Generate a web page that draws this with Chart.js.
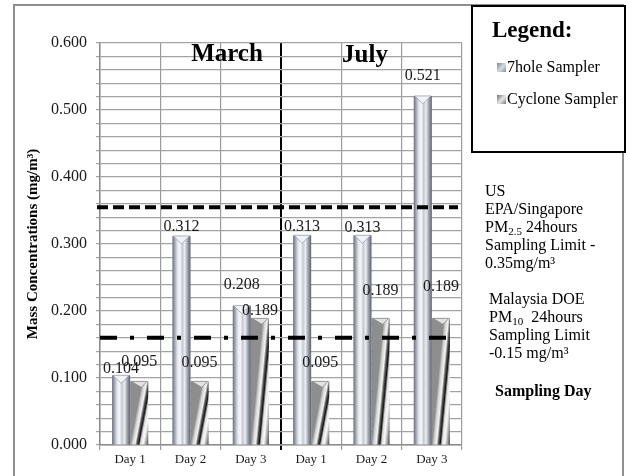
<!DOCTYPE html>
<html>
<head>
<meta charset="utf-8">
<script src="https://cdn.jsdelivr.net/npm/chart.js@4.4.0/dist/chart.umd.min.js"></script>
<style>
  html, body { margin: 0; padding: 0; background: #fff; }
  canvas { display: block; }
</style>
</head>
<body>
<canvas id="massChart" width="626" height="476"></canvas>
<script>
// sampling days for the two campaigns (March, then July)
var days = ['Day 1', 'Day 2', 'Day 3', 'Day 1', 'Day 2', 'Day 3'];
var sevenHole = [0.104, 0.312, 0.208, 0.313, 0.313, 0.521];
var cyclone = [0.095, 0.095, 0.189, 0.095, 0.189, 0.189];
var yMajorTicks = [0, 0.1, 0.2, 0.3, 0.4, 0.5, 0.6];
var pm25Limit = 0.355;
var pm10Limit = 0.16;

// distance (px) between the top of each bar and its value label
var liftSevenHole = [7, 9, 21, 8, 7, 20];
var liftCyclone = [20, 19, 8, 19, 28, 32];

var SERIF = "'Liberation Serif', 'Times New Roman', serif";
var CAT_PCT = 0.6;

var chromeStops = [
  [0, '#6c707c'], [0.12, '#9ca1ad'], [0.28, '#e4e7ee'], [0.42, '#f6f7fa'],
  [0.55, '#c4c8d1'], [0.68, '#eceef3'], [0.82, '#a4a9b4'], [1, '#5d616b']
];
var twistStops = [
  [0, '#8e8e8e'], [0.12, '#d4d4d4'], [0.26, '#f3f3f3'], [0.36, '#5a5a5a'],
  [0.46, '#151515'], [0.56, '#dcdcdc'], [0.7, '#fbfbfb'], [0.85, '#a5a5a5'], [1, '#3e3e3e']
];

// geometry of one bar computed from the scales
function barBox(chart, ds, i) {
  var xs = chart.scales.x, ys = chart.scales.y;
  var cw = xs.width / days.length;
  var w = cw * CAT_PCT / 2;
  var left = xs.getPixelForValue(i) - cw * CAT_PCT / 2 + ds * w;
  var val = chart.data.datasets[ds].data[i];
  var top = ys.getPixelForValue(val), bottom = ys.getPixelForValue(0);
  return { left: left, w: w, top: top, h: Math.max(bottom - top, 1) };
}

// horizontal gradient whose bands lean right by `skew` px over the bar height
function leanGradient(ctx, b, skew, stops) {
  var n = Math.sqrt(b.h * b.h + skew * skew);
  var dx = b.h / n, dy = skew / n;
  var span = b.h * (b.w + skew) / n;
  var g = ctx.createLinearGradient(b.left, b.top, b.left + span * dx, b.top + span * dy);
  var t0 = skew / (b.w + skew);
  stops.forEach(function (s) { g.addColorStop(t0 + s[0] * (1 - t0), s[1]); });
  return g;
}

function barFill(skew, stops, plain) {
  return function (c) {
    var chart = c.chart;
    if (!chart.chartArea || c.dataIndex === undefined) return plain;
    return leanGradient(chart.ctx, barBox(chart, c.datasetIndex, c.dataIndex), skew, stops);
  };
}

var decorations = {
  id: 'decorations',
  beforeDraw: function (chart) {
    var ctx = chart.ctx;
    ctx.save();
    ctx.fillStyle = '#fff';
    ctx.fillRect(0, 0, chart.width, chart.height);
    ctx.strokeStyle = '#8f8f8f';
    ctx.lineWidth = 2;
    ctx.strokeRect(14, 5, 609, 480);
    ctx.restore();
  },
  afterDatasetsDraw: function (chart) {
    var ctx = chart.ctx, ys = chart.scales.y, area = chart.chartArea;
    ctx.save();

    // conical caps on top of the bars
    [0, 1].forEach(function (ds) {
      chart.getDatasetMeta(ds).data.forEach(function (bar) {
        var l = bar.x - bar.width / 2, r = bar.x + bar.width / 2;
        ctx.beginPath();
        ctx.moveTo(l + 1, bar.y);
        ctx.lineTo(r - 1, bar.y);
        ctx.lineTo(bar.x + (ds ? 2 : 0), bar.y + (ds ? 6 : 8));
        ctx.closePath();
        ctx.fillStyle = ds ? '#e2e2e2' : '#f1f3f8';
        ctx.fill();
        ctx.strokeStyle = ds ? '#8a8a8a' : '#9aa0ad';
        ctx.lineWidth = 0.8;
        ctx.stroke();
      });
    });

    // sampling limits
    ctx.strokeStyle = '#000';
    ctx.lineWidth = 4;
    var y1 = ys.getPixelForValue(pm25Limit);
    ctx.setLineDash([11, 5]);
    ctx.beginPath();
    ctx.moveTo(area.left - 3, y1);
    ctx.lineTo(area.right - 4, y1);
    ctx.stroke();
    var y2 = ys.getPixelForValue(pm10Limit);
    ctx.setLineDash([17, 13, 4, 13]);
    ctx.beginPath();
    ctx.moveTo(area.left, y2);
    ctx.lineTo(area.right - 8, y2);
    ctx.stroke();
    ctx.setLineDash([]);

    // value labels
    ctx.font = '16px ' + SERIF;
    ctx.fillStyle = '#1a1a1a';
    ctx.textAlign = 'center';
    ctx.textBaseline = 'middle';
    [[0, liftSevenHole], [1, liftCyclone]].forEach(function (p) {
      var ds = chart.data.datasets[p[0]];
      chart.getDatasetMeta(p[0]).data.forEach(function (bar, i) {
        ctx.fillText(ds.data[i].toFixed(3), bar.x, bar.y - p[1][i]);
      });
    });

    // campaign headings
    ctx.font = 'bold 25px ' + SERIF;
    ctx.fillStyle = '#000';
    ctx.textBaseline = 'alphabetic';
    ctx.fillText('March', 227, 61);
    ctx.fillText('July', 365, 62);
    ctx.restore();
  },
  afterDraw: function (chart) {
    var ctx = chart.ctx;
    ctx.save();
    ctx.fillStyle = '#000';

    // y axis title
    ctx.translate(33, 244);
    ctx.rotate(-Math.PI / 2);
    ctx.font = 'bold 15px ' + SERIF;
    ctx.textAlign = 'center';
    ctx.textBaseline = 'middle';
    ctx.fillText('Mass Concentrations (mg/m\u00b3)', 0, 0);
    ctx.setTransform(1, 0, 0, 1, 0, 0);

    // legend box
    ctx.fillStyle = '#fff';
    ctx.fillRect(472, 6, 153, 146);
    ctx.strokeStyle = '#000';
    ctx.lineWidth = 2;
    ctx.strokeRect(472, 6, 153, 146);
    ctx.fillStyle = '#000';
    ctx.textAlign = 'left';
    ctx.font = 'bold 23px ' + SERIF;
    ctx.fillText('Legend:', 492, 31);
    ctx.font = '16px ' + SERIF;
    [['7hole Sampler', 68, '#d9dce3', '#7d818c'], ['Cyclone Sampler', 100, '#e6e6e6', '#6e6e6e']].forEach(function (it) {
      var g = ctx.createLinearGradient(497, it[1] - 5, 507, it[1] + 4);
      g.addColorStop(0, it[3]);
      g.addColorStop(0.5, it[2]);
      g.addColorStop(1, it[3]);
      ctx.fillStyle = g;
      ctx.fillRect(497, it[1] - 5, 9, 9);
      ctx.fillStyle = '#000';
      ctx.fillText(it[0], 507, it[1]);
    });

    // notes on the limit lines
    ctx.font = '16px ' + SERIF;
    ctx.fillText('US', 485, 192);
    ctx.fillText('EPA/Singapore', 485, 210);
    subLine(ctx, 485, 228, 'PM', '2.5', ' 24hours');
    ctx.fillText('Sampling Limit -', 485, 246);
    ctx.fillText('0.35mg/m\u00b3', 485, 264);
    ctx.fillText('Malaysia DOE', 489, 300);
    subLine(ctx, 489, 318, 'PM', '10', '  24hours');
    ctx.fillText('Sampling Limit', 489, 336);
    ctx.fillText('-0.15 mg/m\u00b3', 489, 354);
    ctx.font = 'bold 16px ' + SERIF;
    ctx.fillText('Sampling Day', 495, 392);
    ctx.restore();
  }
};

function subLine(ctx, x, y, head, sub, tail) {
  ctx.font = '16px ' + SERIF;
  ctx.fillText(head, x, y);
  x += ctx.measureText(head).width;
  ctx.font = '11px ' + SERIF;
  ctx.fillText(sub, x, y + 4);
  x += ctx.measureText(sub).width;
  ctx.font = '16px ' + SERIF;
  ctx.fillText(tail, x, y);
}

new Chart(document.getElementById('massChart'), {
  type: 'bar',
  data: {
    labels: days,
    datasets: [{
      label: '7hole Sampler',
      data: sevenHole,
      backgroundColor: barFill(0, chromeStops, '#c0c4cc'),
      borderWidth: 0
    }, {
      label: 'Cyclone Sampler',
      data: cyclone,
      backgroundColor: barFill(12, twistStops, '#a0a0a0'),
      borderWidth: 0
    }]
  },
  options: {
    responsive: false,
    animation: false,
    devicePixelRatio: 1,
    categoryPercentage: CAT_PCT,
    barPercentage: 1,
    layout: { padding: { top: 43, right: 164, bottom: 0, left: 14 } },
    plugins: {
      legend: { display: false },
      tooltip: { enabled: false }
    },
    scales: {
      x: {
        afterFit: function (s) { s.height = 31; },
        grid: {
          offset: true,
          tickLength: 5,
          color: function (c) { return c.index === 3 ? '#000' : '#9c9c9c'; },
          lineWidth: function (c) { return c.index === 3 ? 2 : 1.2; }
        },
        border: { color: '#8c8c8c', width: 1.5 },
        ticks: {
          padding: 2,
          color: '#1a1a1a',
          font: { family: SERIF, size: 13 }
        }
      },
      y: {
        min: 0,
        max: 0.6,
        afterFit: function (s) { s.width = 86; },
        grid: { color: '#a3a3a3', lineWidth: 1.2, tickLength: 4 },
        border: { color: '#8c8c8c', width: 1.5 },
        ticks: {
          stepSize: 0.02,
          autoSkip: false,
          padding: 9,
          color: '#1a1a1a',
          font: { family: SERIF, size: 16 },
          callback: function (v) {
            var hit = yMajorTicks.find(function (m) { return Math.abs(m - v) < 1e-6; });
            return hit === undefined ? '' : hit.toFixed(3);
          }
        }
      }
    }
  },
  plugins: [decorations]
});
</script>
</body>
</html>
